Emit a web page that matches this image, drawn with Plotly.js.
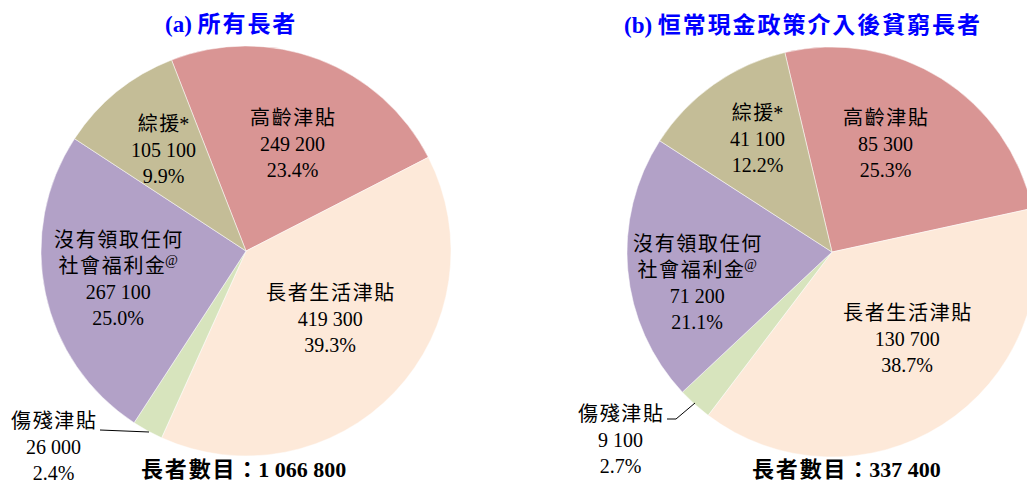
<!DOCTYPE html>
<html>
<head>
<meta charset="utf-8">
<script src="https://cdn.plot.ly/plotly-3.0.1.min.js"></script>
<style>
  body { margin: 0; overflow: hidden; background: #fff; }
  #chart { width: 1040px; height: 484px; }
</style>
</head>
<body>
<div id="chart"></div>
<script>
// categories and values
var categories = ['高齡津貼', '長者生活津貼', '傷殘津貼', '沒有領取任何<br>社會福利金<sup>@</sup>', '綜援*'];
var allElders = [249200, 419300, 26000, 267100, 105100];
var allPct = ['23.4%', '39.3%', '2.4%', '25.0%', '9.9%'];
var poorElders = [85300, 130700, 9100, 71200, 41100];
var poorPct = ['25.3%', '38.7%', '2.7%', '21.1%', '12.2%'];
var titles = ['(a) 所有長者', '(b) 恒常現金政策介入後貧窮長者'];
var totals = ['1 066 800', '337 400'];
var colors = ['#d99594', '#fde9d9', '#d7e4bd', '#b2a1c7', '#c4bd97'];

var W = 1040, H = 484;
var serif = 'Liberation Serif, "Noto Sans CJK TC", serif';

function fmt(n) {
  return String(n).replace(/\B(?=(\d{3})+(?!\d))/g, ' ');
}
// the original sets its Chinese text a little spread out
function spread(s) {
  return s.replace(/([\u3000-\u9fff\uff00-\uffef])(?=[\u3000-\u9fff\uff00-\uffef])/g, '$1\u200a');
}
function px(x) { return x / W; }
function py(y) { return 1 - y / H; }

// label block centres (pixels) for each slice, left pie then right pie
var labelPos = [
  [[292, 144], [330, 319], [53, 447], [118, 279], [163, 150]],
  [[885, 144], [907, 339], [620, 440], [697, 283], [757, 139]]
];

var trace1 = {
  type: 'pie',
  labels: categories,
  values: allElders,
  sort: false,
  direction: 'clockwise',
  rotation: -21.3,
  marker: { colors: colors, line: { color: '#ffffff', width: 0.5 } },
  textinfo: 'none',
  hoverinfo: 'none',
  showlegend: false,
  domain: { x: [px(41), px(451)], y: [py(456), py(46)] }
};

var trace2 = {
  type: 'pie',
  labels: categories,
  values: poorElders,
  sort: false,
  direction: 'clockwise',
  rotation: -13.3,
  marker: { colors: colors, line: { color: '#ffffff', width: 0.5 } },
  textinfo: 'none',
  hoverinfo: 'none',
  showlegend: false,
  domain: { x: [px(627), px(1037)], y: [py(457), py(47)] }
};

var annotations = [];
[[allElders, allPct], [poorElders, poorPct]].forEach(function (s, k) {
  for (var i = 0; i < categories.length; i++) {
    annotations.push({
      xref: 'paper', yref: 'paper',
      x: px(labelPos[k][i][0]), y: py(labelPos[k][i][1]),
      xanchor: 'center', yanchor: 'middle',
      text: spread(categories[i]) + '<br>' + fmt(s[0][i]) + '<br>' + s[1][i],
      showarrow: false,
      font: { family: serif, size: 20, color: '#000' }
    });
  }
});

var titleX = [230, 802];
var totalX = [243, 846];
for (var k = 0; k < 2; k++) {
  annotations.push({
    xref: 'paper', yref: 'paper', x: px(titleX[k]), y: py(25),
    xanchor: 'center', yanchor: 'middle', showarrow: false,
    text: '<b>' + spread(titles[k]) + '</b>',
    font: { family: serif, size: 23, color: '#0000ff' }
  });
  annotations.push({
    xref: 'paper', yref: 'paper', x: px(totalX[k]), y: py(469),
    xanchor: 'center', yanchor: 'middle', showarrow: false,
    text: '<b>' + spread('長者數目：') + totals[k] + '</b>',
    font: { family: serif, size: 22, color: '#000' }
  });
}

function pathPx(pts) {
  return pts.map(function (p, i) {
    return (i ? 'L ' : 'M ') + px(p[0]) + ' ' + py(p[1]);
  }).join(' ');
}

var shapes = [
  { type: 'path', xref: 'paper', yref: 'paper', path: pathPx([[100, 430], [149, 432]]),
    line: { color: '#000', width: 1 } },
  { type: 'path', xref: 'paper', yref: 'paper', path: pathPx([[667, 419], [676, 419], [695, 403]]),
    line: { color: '#000', width: 1 } }
];

var layout = {
  width: W, height: H,
  margin: { l: 0, r: 0, t: 0, b: 0 },
  paper_bgcolor: '#fff',
  annotations: annotations,
  shapes: shapes
};

Plotly.newPlot('chart', [trace1, trace2], layout, { staticPlot: true });
</script>
</body>
</html>
